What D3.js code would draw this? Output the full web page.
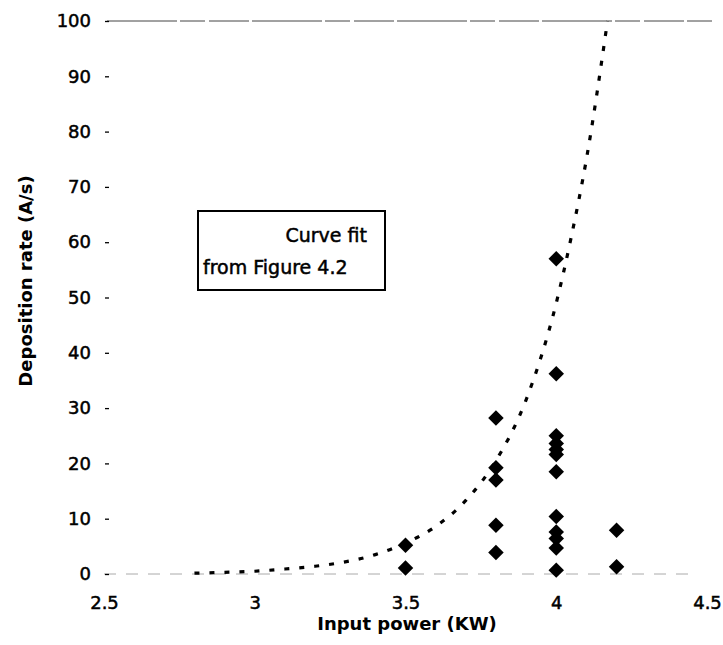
<!DOCTYPE html>
<html lang="en">
<head>
<meta charset="utf-8">
<title>Deposition rate vs input power</title>
<script src="https://d3js.org/d3.v7.min.js"></script>
<style>
  body { margin: 0; background: #fff; }
  text { font-family: "DejaVu Sans", "Liberation Sans", sans-serif; fill: #000; }
</style>
</head>
<body>
<div id="chart"></div>
<script>
// measured points (input power KW, deposition rate A/s)
var powerKW = [3.5, 3.5, 3.8, 3.8, 3.8, 3.8, 3.8,
               4.0, 4.0, 4.0, 4.0, 4.0, 4.0, 4.0, 4.0, 4.0, 4.0, 4.0, 4.0,
               4.2, 4.2];
var rateAs  = [5.2, 1.1, 28.2, 19.2, 17.0, 8.8, 3.9,
               57.0, 36.2, 25.0, 23.6, 22.5, 21.6, 18.5, 10.4, 7.6, 6.4, 4.7, 0.7,
               7.9, 1.3];

// dotted curve fit from figure 4.2
var fitX = [2.8, 2.9, 3.0, 3.1, 3.2, 3.3, 3.4, 3.5, 3.6, 3.7, 3.8, 3.9, 4.0, 4.05, 4.1, 4.17];
var fitY = [0.15, 0.3, 0.5, 0.9, 1.4, 2.2, 3.5, 5.6, 8.6, 13.3, 20.5, 31.5, 49, 61, 75, 100];

var xTicks = [2.5, 3, 3.5, 4, 4.5];
var yTicks = [0, 10, 20, 30, 40, 50, 60, 70, 80, 90, 100];

var W = 723, H = 645;

var svg = d3.select("#chart").append("svg")
    .attr("width", W)
    .attr("height", H);

var x = d3.scaleLinear().domain([2.5, 4.5]).range([104, 707]);
var y = d3.scaleLinear().domain([0, 100]).range([574, 21]);

// top line at 100
svg.append("line")
    .attr("x1", 107).attr("x2", 712)
    .attr("y1", y(100)).attr("y2", y(100))
    .attr("stroke", "#444").attr("stroke-width", 1)
    .attr("stroke-dasharray", "70,3,25,4,40,3");

// x axis line at 0 (faint, broken like the scan)
svg.append("line")
    .attr("x1", x(2.5)).attr("x2", x(4.45))
    .attr("y1", y(0)).attr("y2", y(0))
    .attr("stroke", "#aaa").attr("stroke-width", 1)
    .attr("stroke-dasharray", "12,10");

// y axis: labels + little tick marks, no line
var yAxis = svg.append("g")
    .attr("transform", "translate(109,0)")
    .call(d3.axisLeft(y).tickValues(yTicks).tickSize(4).tickPadding(14));
yAxis.select(".domain").remove();
yAxis.selectAll(".tick line").attr("stroke", "#000").attr("stroke-width", 1.3);
yAxis.selectAll(".tick text")
    .style("font-family", "DejaVu Sans")
    .style("font-size", "18px")
    .attr("stroke", "#000").attr("stroke-width", 0.5);

// x axis: labels only
var xAxis = svg.append("g")
    .attr("transform", "translate(0," + y(0) + ")")
    .call(d3.axisBottom(x).tickValues(xTicks).tickSize(0).tickPadding(22)
          .tickFormat(d3.format("~g")));
xAxis.select(".domain").remove();
xAxis.selectAll(".tick text")
    .style("font-family", "DejaVu Sans")
    .style("font-size", "18px")
    .attr("stroke", "#000").attr("stroke-width", 0.5);

// axis titles
svg.append("text")
    .attr("x", 407).attr("y", 630)
    .attr("text-anchor", "middle")
    .style("font-size", "18px")
    .style("font-weight", "bold")
    .text("Input power (KW)");

svg.append("text")
    .attr("transform", "translate(32,281) rotate(-90)")
    .attr("text-anchor", "middle")
    .style("font-size", "18px")
    .style("font-weight", "bold")
    .text("Deposition rate (A/s)");

// curve fit
var fitData = fitX.map(function(d, i) { return [d, fitY[i]]; });
svg.append("path")
    .datum(fitData)
    .attr("fill", "none")
    .attr("stroke", "#000")
    .attr("stroke-width", 3.2)
    .attr("stroke-dasharray", "5,10")
    .attr("d", d3.line()
        .curve(d3.curveMonotoneX)
        .x(function(d) { return x(d[0]); })
        .y(function(d) { return y(d[1]); }));

// diamonds
var diamond = d3.symbol().type(d3.symbolSquare).size(120);
svg.append("g")
  .selectAll("path")
  .data(powerKW)
  .enter()
  .append("path")
    .attr("d", diamond)
    .attr("transform", function(d, i) {
        return "translate(" + x(d) + "," + y(rateAs[i]) + ") rotate(45)";
    })
    .attr("fill", "#000");

// annotation box
svg.append("rect")
    .attr("x", 198).attr("y", 211)
    .attr("width", 187).attr("height", 79)
    .attr("fill", "#fff")
    .attr("stroke", "#000").attr("stroke-width", 2);
svg.append("text")
    .attr("x", 367).attr("y", 242)
    .attr("text-anchor", "end")
    .style("font-size", "19px")
    .attr("stroke", "#000").attr("stroke-width", 0.5)
    .text("Curve fit");
svg.append("text")
    .attr("x", 203).attr("y", 274)
    .style("font-size", "19px")
    .attr("stroke", "#000").attr("stroke-width", 0.5)
    .text("from Figure 4.2");
</script>
</body>
</html>
